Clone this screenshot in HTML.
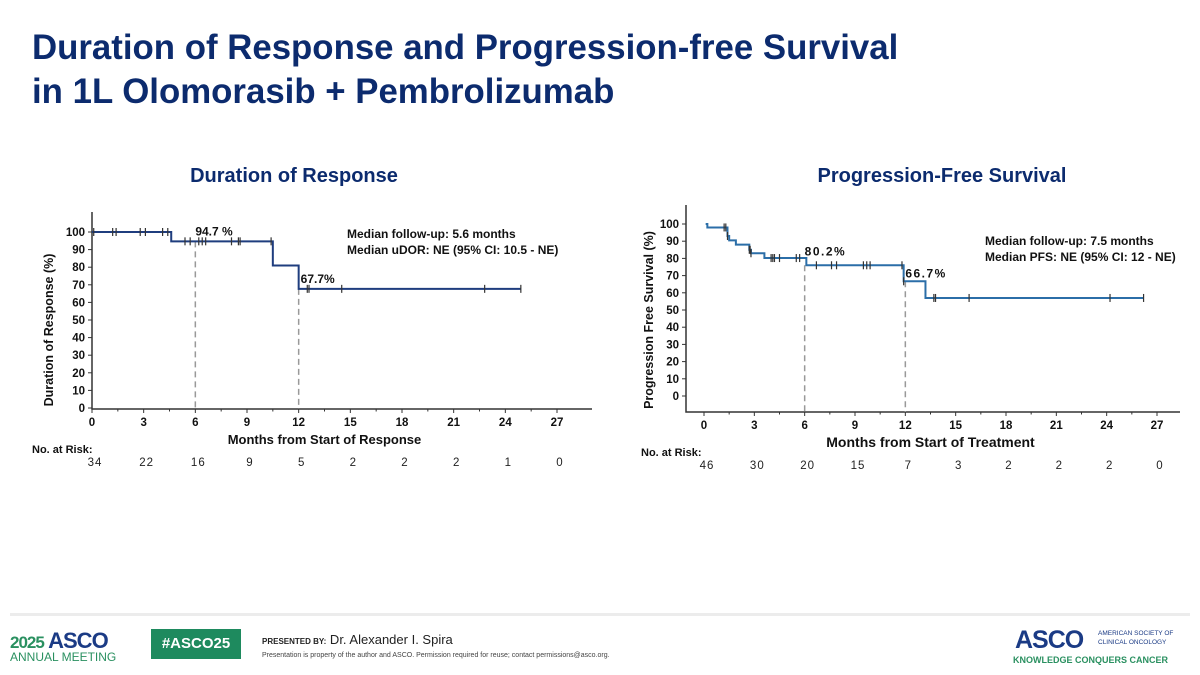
<!DOCTYPE html>
<html><head><meta charset="utf-8"><style>
body{margin:0;width:1200px;height:675px;background:#fff;font-family:"Liberation Sans",sans-serif;overflow:hidden;position:relative}
.t{position:absolute;white-space:nowrap}
</style></head><body>
<div class="t" style="left:32px;top:26px;font-size:34.8px;font-weight:bold;color:#0c2b6e;line-height:44px">Duration of Response and Progression-free Survival<br>in 1L Olomorasib + Pembrolizumab</div>
<svg id="svg" width="1200" height="675" style="position:absolute;left:0;top:0" font-family="Liberation Sans, sans-serif"></svg>
<div style="position:absolute;left:10px;top:613px;width:1180px;height:3px;background:#ececec"></div>
<div class="t" style="left:10px;top:628px;color:#1b3b85;font-size:22px;font-weight:bold;letter-spacing:-1px"><span style="color:#2a9060;font-size:17px">2025</span> ASCO</div>
<div class="t" style="left:10px;top:650px;color:#2a9060;font-size:12px">ANNUAL MEETING</div>
<div class="t" style="left:151px;top:629px;width:90px;height:30px;background:#1e8a5e;color:#fff;font-size:15px;font-weight:bold;line-height:30px;text-align:center">#ASCO25</div>
<div class="t" style="left:262px;top:632px;font-size:13px;color:#222"><span style="font-size:8px;font-weight:bold">PRESENTED BY:</span> Dr. Alexander I. Spira</div>
<div class="t" style="left:262px;top:652px;font-size:7px;color:#444">Presentation is property of the author and ASCO. Permission required for reuse; contact permissions@asco.org.</div>
<div class="t" style="left:1015px;top:626px;font-size:25px;font-weight:bold;color:#1b3b85;letter-spacing:-1px">ASCO</div>
<div class="t" style="left:1098px;top:629px;font-size:6.5px;color:#1b3b85;line-height:9px">AMERICAN SOCIETY OF<br>CLINICAL ONCOLOGY</div>
<div class="t" style="left:1013px;top:655px;font-size:9px;font-weight:bold;color:#2a9060">KNOWLEDGE CONQUERS CANCER</div>
<script>
const monthTicks=[0,3,6,9,12,15,18,21,24,27];
const yTicks=[0,10,20,30,40,50,60,70,80,90,100];
const dorTimes=[0,4.6,10.5,12,24.9];
const dorSurv=[100,94.7,81,67.7,67.7];
const dorCensor=[0.1,1.2,1.4,2.8,3.1,4.1,4.4,5.4,5.7,6.2,6.4,6.6,8.1,8.5,8.6,10.4,12.5,12.6,14.5,22.8,24.9];
const dorRisk=[34,22,16,9,5,2,2,2,1,0];
const pfsTimes=[0.1,0.2,1.4,1.5,1.9,2.7,2.8,3.6,6.1,11.9,13.2,26.2];
const pfsSurv=[100,98,93,90.5,88,85,83,80.2,76,66.7,57,57];
const pfsCensor=[1.2,1.3,1.4,2.7,2.75,2.8,4.0,4.1,4.2,4.5,5.5,5.7,6.7,7.6,7.9,9.5,9.7,9.9,11.8,11.9,13.7,13.8,15.8,24.2,26.2];
const pfsRisk=[46,30,20,15,7,3,2,2,2,0];
const svg=document.getElementById('svg');
const NS='http://www.w3.org/2000/svg';
function mk(tag,a,txt){const e=document.createElementNS(NS,tag);for(const k in a)e.setAttribute(k,a[k]);if(txt!==undefined)e.textContent=txt;svg.appendChild(e);return e;}
function chart(o){
 const X=t=>o.x0+(o.x1-o.x0)*t/27, Y=v=>o.y0+(o.y100-o.y0)*v/100;
 let e=mk('text',{x:o.cx,y:o.ty,'font-size':20,'font-weight':'bold',fill:'#0c2b6e','text-anchor':'middle'},o.title);
 
 e=mk('path',{d:`M${o.ax} ${o.top}V${o.axy}H${o.right}`,stroke:'#333','stroke-width':1.5,fill:'none'});
 
 yTicks.forEach(v=>{mk('line',{x1:o.ax-4,x2:o.ax,y1:Y(v),y2:Y(v),stroke:'#333'});
  e=mk('text',{x:o.ax-7,y:Y(v)+4,'font-size':11.5,'font-weight':'bold','text-anchor':'end',fill:'#111'},v);
  });
 monthTicks.forEach((m,i)=>{mk('line',{x1:X(m),x2:X(m),y1:o.axy,y2:o.axy+4,stroke:'#333'});
  if(m<27)mk('line',{x1:X(m+1.5),x2:X(m+1.5),y1:o.axy,y2:o.axy+2.5,stroke:'#333'});
  e=mk('text',{x:X(m),y:o.axy+17,'font-size':11.5,'font-weight':'bold','text-anchor':'middle',fill:'#111'},m);
  
  e=mk('text',{x:X(m)+3,y:o.riskY,'font-size':11.5,'text-anchor':'middle',fill:'#222','letter-spacing':1},o.risk[i]);
  });
 e=mk('text',{x:X(13.5),y:o.axy+35,'font-size':o.xfs,'font-weight':'bold','text-anchor':'middle',fill:'#111'},o.xlab);
 
 e=mk('text',{x:0,y:0,'font-size':12.5,'font-weight':'bold','text-anchor':'middle',fill:'#111',transform:`translate(${o.ylx},${(Y(0)+Y(100))/2+10}) rotate(-90)`},o.ylab);
 
 e=mk('text',{x:o.riskLx,y:o.riskY-13,'font-size':11,'font-weight':'bold',fill:'#111'},'No. at Risk:');
 
 o.refs.forEach((r,i)=>{e=mk('line',{x1:X(r.t),x2:X(r.t),y1:Y(r.v),y2:o.axy,stroke:'#999','stroke-width':1.5,'stroke-dasharray':'6,4'});
  
  e=mk('text',{x:X(r.t)+r.dx,y:Y(r.v)+r.dy,'font-size':12,'font-weight':'bold',fill:'#111','letter-spacing':o.ls},r.label);
  });
 let d=`M${X(o.times[0])} ${Y(o.surv[0])}`;
 for(let i=1;i<o.times.length;i++)d+=`H${X(o.times[i])}V${Y(o.surv[i])}`;
 e=mk('path',{d,stroke:o.col,'stroke-width':2,fill:'none'});
 
 const sAt=t=>{let s=o.surv[0];for(let i=0;i<o.times.length;i++)if(o.times[i]<=t)s=o.surv[i];return s;};
 o.cens.forEach(t=>{const y=Y(sAt(t));e=mk('line',{x1:X(t),x2:X(t),y1:y-4,y2:y+4,stroke:'#333','stroke-width':1.2});
  });
 o.notes.forEach((n,i)=>{e=mk('text',{x:o.nx,y:o.ny+i*16,'font-size':12,'font-weight':'bold',fill:'#111'},n);
  });
}
chart({id:'dor',title:'Duration of Response',cx:294,ty:182,x0:92,x1:557,y0:408,y100:232,ax:92,axy:409,top:212,right:592,
 risk:dorRisk,riskY:466,riskLx:32,xlab:'Months from Start of Response',xfs:13,ylab:'Duration of Response (%)',ylx:53,
 times:dorTimes,surv:dorSurv,cens:dorCensor,col:'#1f3d7e',ls:0,
 refs:[{t:6,v:94.7,label:'94.7 %',dx:0,dy:-6},{t:12,v:67.7,label:'67.7%',dx:2,dy:-6}],
 notes:['Median follow-up: 5.6 months','Median uDOR: NE (95% CI: 10.5 - NE)'],nx:347,ny:238});
chart({id:'pfs',title:'Progression-Free Survival',cx:942,ty:182,x0:704,x1:1157,y0:396,y100:224,ax:686,axy:412,top:205,right:1180,
 risk:pfsRisk,riskY:469,riskLx:641,xlab:'Months from Start of Treatment',xfs:14,ylab:'Progression Free Survival (%)',ylx:653,
 times:pfsTimes,surv:pfsSurv,cens:pfsCensor,col:'#2b6ea8',ls:1.5,
 refs:[{t:6,v:76,label:'80.2%',dx:0,dy:-10},{t:12,v:66.7,label:'66.7%',dx:0,dy:-4}],
 notes:['Median follow-up: 7.5 months','Median PFS: NE (95% CI: 12 - NE)'],nx:985,ny:245});
</script>
</body></html>
